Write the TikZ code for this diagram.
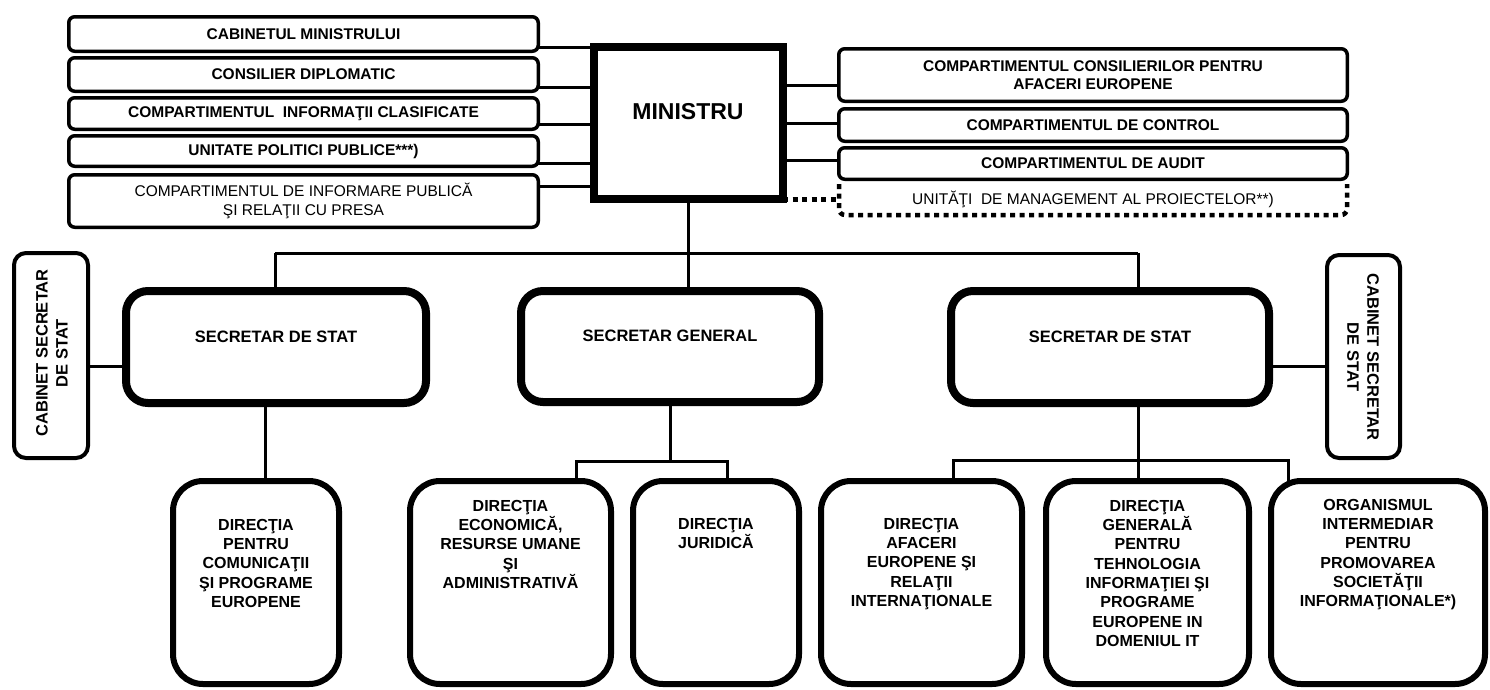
\documentclass[tikz,border=0pt]{standalone}
\usepackage{fontspec}
\setmainfont{Liberation Sans}
\begin{document}
\begin{tikzpicture}[x=1pt,y=-1pt,
  conn/.style={line width=3pt},
  dotline/.style={line width=4.5pt, dash pattern=on 5pt off 4.5pt},
  stackbox/.style={draw, line width=3.5pt, rounded corners=6pt, inner sep=0pt, outer sep=0pt, align=center, font=\fontsize{15.5}{18}\selectfont\bfseries},
  minbox/.style={draw, line width=8pt, inner sep=0pt, outer sep=0pt},
  secbox/.style={draw, line width=8pt, rounded corners=22pt, inner sep=0pt, outer sep=0pt},
  cabbox/.style={draw, line width=4pt, rounded corners=12pt, inner sep=0pt, outer sep=0pt},
  dirbox/.style={draw, line width=6pt, rounded corners=30pt, inner sep=0pt, outer sep=0pt},
  sectext/.style={inner sep=0pt, font=\fontsize{16.5}{20}\selectfont\bfseries},
  cabtext/.style={inner sep=0pt, align=center, font=\fontsize{16.5}{20}\selectfont\bfseries},
  dirtext/.style={inner sep=0pt, anchor=north, align=center, font=\fontsize{16}{19.3}\selectfont\bfseries}
]
\useasboundingbox (0,0) rectangle (1490,689);

% left stack
\node[stackbox, minimum width=469.5pt, minimum height=34.5pt] (L1) at (303.5,34) {CABINETUL MINISTRULUI};
\node[stackbox, minimum width=469.5pt, minimum height=33.5pt] (L2) at (303.5,74.5) {CONSILIER DIPLOMATIC};
\node[stackbox, minimum width=469.5pt, minimum height=31.5pt] (L3) at (303.5,113.5) {COMPARTIMENTUL\ \ INFORMAŢII CLASIFICATE};
\node[stackbox, minimum width=469.5pt, minimum height=30.5pt] (L4) at (303.5,151) {UNITATE POLITICI PUBLICE***)};
\node[stackbox, minimum width=469.5pt, minimum height=52.5pt, font=\fontsize{15.5}{19}\selectfont] (L5) at (303.5,201) {COMPARTIMENTUL DE INFORMARE PUBLICĂ\\ŞI RELAŢII CU PRESA};

% ministru
\node[minbox, minimum width=189pt, minimum height=152pt] (Min) at (688.5,123) {};
\node[inner sep=0pt, font=\fontsize{23}{27}\selectfont\bfseries] (MinT) at (688,112) {MINISTRU};

% right stack
\node[stackbox, minimum width=508.5pt, minimum height=52.5pt] (R1) at (1093,75) {COMPARTIMENTUL CONSILIERILOR PENTRU\\AFACERI EUROPENE};
\node[stackbox, minimum width=508.5pt, minimum height=32.5pt] (R2) at (1093,125) {COMPARTIMENTUL DE CONTROL};
\node[stackbox, minimum width=508.5pt, minimum height=31.5pt] (R3) at (1093,163.5) {COMPARTIMENTUL DE AUDIT};
\node[inner sep=0pt, outer sep=0pt, minimum width=508pt, minimum height=31pt, font=\fontsize{15.5}{18}\selectfont] (R4) at (1093,199.5) {UNITĂŢI\ \ DE MANAGEMENT AL PROIECTELOR**)};
\draw[dotline, rounded corners=6pt] (R4.north west) -- (R4.south west) -- (R4.south east) -- (R4.north east);

% connectors left stack
\path ([yshift=-13pt]L1.east) coordinate (l1c);
\path ([yshift=-12.5pt]L2.east) coordinate (l2c);
\path ([yshift=-10.5pt]L3.east) coordinate (l3c);
\path ([yshift=-12pt]L4.east) coordinate (l4c);
\path ([yshift=15pt]L5.east) coordinate (l5c);
\foreach \c in {l1c,l2c,l3c,l4c,l5c} \draw[conn] (\c) -- (Min.west |- \c);

% connectors right stack
\path ([yshift=-10pt]R1.west) coordinate (r1c);
\path ([yshift=2pt]R2.west) coordinate (r2c);
\path ([yshift=3.5pt]R3.west) coordinate (r3c);
\foreach \c in {r1c,r2c,r3c} \draw[conn] (\c) -- (Min.east |- \c);
\draw[dotline] (Min.east |- R4.west) -- (R4.west);

% secretaries
\node[secbox, minimum width=300pt, minimum height=112pt] (S1) at (276,347) {};
\node[sectext] (S1t) at (276,337) {SECRETAR DE STAT};
\node[secbox, minimum width=298pt, minimum height=111pt] (SG) at (670,346.5) {};
\node[sectext] (SGt) at (670,336) {SECRETAR GENERAL};
\node[secbox, minimum width=318pt, minimum height=112pt] (S2) at (1110,347) {};
\node[sectext] (S2t) at (1110,337) {SECRETAR DE STAT};

% cabinets
\node[cabbox, minimum width=74pt, minimum height=205pt] (C1) at (51,355.5) {};
\node[cabtext, rotate=90] (C1t) at (52,353) {CABINET SECRETAR\\DE STAT};
\node[cabbox, minimum width=73pt, minimum height=203pt] (C2) at (1363.5,356.5) {};
\node[cabtext, rotate=-90] (C2t) at (1363,357) {CABINET SECRETAR\\DE STAT};

% bus
\coordinate (busL) at (275,253);
\coordinate (busR) at (1138,253);
\draw[conn] (busL) -- (busR);
\draw[conn] (Min.south) -- (Min.south |- busL);
\draw[conn] (busL) -- (busL |- S1.north);
\draw[conn] (Min.south |- busL) -- (Min.south |- SG.north);
\draw[conn] (busR) -- (busR |- S2.north);

% cabinet connectors
\path ([yshift=-19pt]S1.west) coordinate (c1c);
\path ([yshift=-19pt]S2.east) coordinate (c2c);
\draw[conn] (c1c) -- (C1.east |- c1c);
\draw[conn] (c2c) -- (C2.west |- c2c);

% directions
\node[dirbox, minimum width=166pt, minimum height=203pt] (DA) at (256,582.5) {};
\node[dirbox, minimum width=201pt, minimum height=203pt] (DB) at (510.5,582.5) {};
\node[dirbox, minimum width=166pt, minimum height=203pt] (DC) at (716,582.5) {};
\node[dirbox, minimum width=201pt, minimum height=203pt] (DD) at (921.5,582.5) {};
\node[dirbox, minimum width=203pt, minimum height=203pt] (DE) at (1147.5,582.5) {};
\node[dirbox, minimum width=214pt, minimum height=203pt] (DF) at (1378,582.5) {};

\node[dirtext] (DAt) at (256,519) {DIRECŢIA\\PENTRU\\COMUNICAŢII\\ŞI PROGRAME\\EUROPENE};
\node[dirtext] (DBt) at (510.5,500) {DIRECŢIA\\ECONOMICĂ,\\RESURSE UMANE\\ŞI\\ADMINISTRATIVĂ};
\node[dirtext] (DCt) at (716,518) {DIRECŢIA\\JURIDICĂ};
\node[dirtext] (DDt) at (921.5,518) {DIRECŢIA\\AFACERI\\EUROPENE ŞI\\RELAŢII\\INTERNAŢIONALE};
\node[dirtext] (DEt) at (1147.5,500) {DIRECŢIA\\GENERALĂ\\PENTRU\\TEHNOLOGIA\\INFORMAŢIEI ŞI\\PROGRAME\\EUROPENE IN\\DOMENIUL IT};
\node[dirtext] (DFt) at (1378,499) {ORGANISMUL\\INTERMEDIAR\\PENTRU\\PROMOVAREA\\SOCIETĂŢII\\INFORMAŢIONALE*)};

% lower connectors
\draw[conn] ([xshift=-11pt]S1.south) -- ([xshift=-11pt]S1.south |- DA.north);
\coordinate (sgbar) at (670,461);
\draw[conn] (SG.south) -- (sgbar);
\draw[conn] ([xshift=65.5pt]DB.north) |- (sgbar) -| ([xshift=11pt]DC.north);
\coordinate (s2bar) at (1138,460);
\draw[conn] (s2bar |- S2.south) -- (s2bar |- DE.north);
\draw[conn] ([xshift=31.5pt]DD.north) |- (s2bar) -| ([xshift=-90pt]DF.north);
\end{tikzpicture}
\end{document}
